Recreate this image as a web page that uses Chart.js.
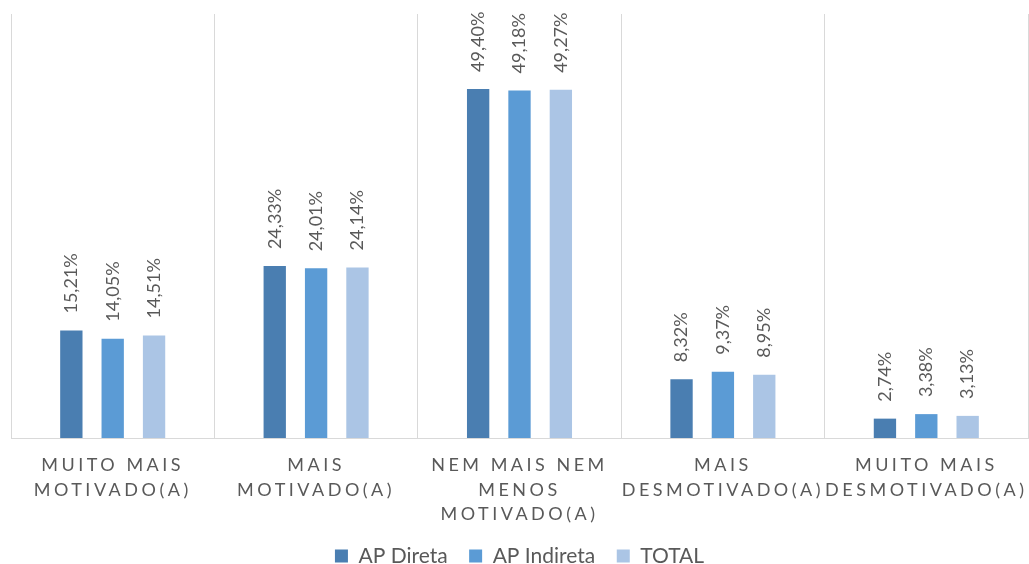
<!DOCTYPE html>
<html>
<head>
<meta charset="utf-8">
<script src="https://cdn.jsdelivr.net/npm/chart.js@4/dist/chart.umd.min.js"></script>
<style>
  html, body { margin: 0; padding: 0; background: #fff; }
  #wrap { width: 1029px; height: 564px; }
</style>
</head>
<body>
<div id="wrap"><canvas id="chart"></canvas></div>
<script>
// dados do gráfico
const categories = [
    ['MUITO MAIS', 'MOTIVADO(A)'],
    ['MAIS', 'MOTIVADO(A)'],
    ['NEM MAIS NEM', 'MENOS', 'MOTIVADO(A)'],
    ['MAIS', 'DESMOTIVADO(A)'],
    ['MUITO MAIS', 'DESMOTIVADO(A)']
];
const seriesNames = ['AP Direta', 'AP Indireta', 'TOTAL'];
const apDireta = [15.21, 24.33, 49.40, 8.32, 2.74];
const apIndireta = [14.05, 24.01, 49.18, 9.37, 3.38];
const total = [14.51, 24.14, 49.27, 8.95, 3.13];
const colors = ['#4a7eb1', '#5b9bd5', '#abc5e5'];

const textColor = '#595959';
const fontFamily = 'Lato, "Open Sans", sans-serif';

// rótulos de dados na vertical + espaçamento das letras do eixo x
const labelsPlugin = {
    id: 'labelsPlugin',
    beforeDraw(chart) {
        chart.ctx.letterSpacing = '0px';
    },
    afterDatasetsDraw(chart) {
        const ctx = chart.ctx;
        ctx.save();
        ctx.letterSpacing = '0px';
        ctx.font = '18px ' + fontFamily;
        ctx.fillStyle = textColor;
        ctx.textAlign = 'left';
        ctx.textBaseline = 'middle';
        chart.data.datasets.forEach((ds, i) => {
            chart.getDatasetMeta(i).data.forEach((bar, j) => {
                const txt = ds.data[j].toFixed(2).replace('.', ',') + '%';
                ctx.save();
                ctx.translate(bar.x, bar.y - 17);
                ctx.rotate(-Math.PI / 2);
                ctx.fillText(txt, 0, 0);
                ctx.restore();
            });
        });
        ctx.restore();
        // os rótulos do eixo x são desenhados depois (ticks.z: 1)
        ctx.letterSpacing = '3.5px';
    },
    afterDraw(chart) {
        chart.ctx.letterSpacing = '0px';
    }
};

const ctx = document.getElementById('chart').getContext('2d');
const chart = new Chart(ctx, {
    type: 'bar',
    data: {
        labels: categories,
        datasets: [
            { label: seriesNames[0], data: apDireta, backgroundColor: colors[0] },
            { label: seriesNames[1], data: apIndireta, backgroundColor: colors[1] },
            { label: seriesNames[2], data: total, backgroundColor: colors[2] }
        ]
    },
    options: {
        responsive: true,
        maintainAspectRatio: false,
        animation: false,
        categoryPercentage: 0.61,
        barPercentage: 0.54,
        layout: { padding: { top: 14, left: 11, right: 1, bottom: -12.5 } },
        scales: {
            x: {
                afterFit(scale) {
                    scale.height = 86;
                },
                grid: { display: true, color: '#d9d9d9', lineWidth: 1, drawTicks: false, offset: true },
                border: { display: true, color: '#d9d9d9' },
                ticks: {
                    z: 1,
                    color: textColor,
                    font: { family: fontFamily, size: 18, lineHeight: 24.5 / 18 },
                    padding: 15,
                    maxRotation: 0,
                    minRotation: 0,
                    autoSkip: false
                }
            },
            y: {
                display: false,
                min: 0,
                max: 60
            }
        },
        plugins: {
            legend: {
                position: 'bottom',
                labels: {
                    boxWidth: 13,
                    boxHeight: 13,
                    padding: 21.5,
                    color: textColor,
                    font: { family: fontFamily, size: 21 }
                }
            },
            tooltip: { enabled: false }
        }
    },
    plugins: [labelsPlugin]
});
</script>
</body>
</html>
